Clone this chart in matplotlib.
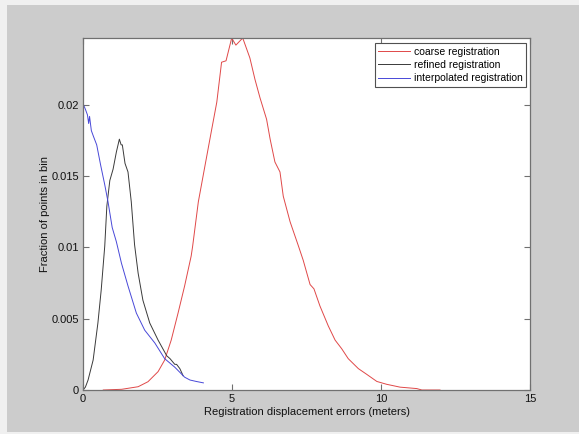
import matplotlib
matplotlib.use("Agg")
import matplotlib.pyplot as plt
from matplotlib.patches import Rectangle

plt.rcParams['font.family'] = ['Liberation Sans', 'DejaVu Sans']

# coarse registration (red)
coarse_x = [0.68, 1.30, 1.85, 2.18, 2.52, 2.74, 2.96, 3.19, 3.41, 3.63, 3.68, 3.87, 4.09,
            4.32, 4.49, 4.65, 4.80, 4.99, 5.13, 5.36, 5.60, 5.77, 5.94, 6.16, 6.28, 6.44,
            6.61, 6.72, 6.95, 7.23, 7.39, 7.62, 7.75, 7.95, 8.23, 8.46, 8.68, 8.90, 9.24,
            9.52, 9.86, 10.19, 10.64, 11.20, 11.37, 11.98]
coarse_y = [0.0000, 0.00005, 0.00023, 0.00058, 0.00129, 0.0021, 0.0035, 0.0054, 0.0073,
            0.0094, 0.0101, 0.0132, 0.0157, 0.0183, 0.0202, 0.0230, 0.0231, 0.0247, 0.0242,
            0.0247, 0.0233, 0.0218, 0.0205, 0.0190, 0.0176, 0.0160, 0.0153, 0.0136, 0.0118,
            0.0101, 0.0091, 0.0074, 0.0071, 0.0059, 0.0045, 0.0035, 0.0029, 0.0022, 0.0015,
            0.0011, 0.0006, 0.0004, 0.0002, 0.0001, 0.0000, 0.0000]

# refined registration (black)
refined_x = [0.00, 0.08, 0.17, 0.34, 0.50, 0.61, 0.73, 0.80, 0.90, 1.01, 1.12, 1.22, 1.28,
             1.32, 1.41, 1.51, 1.62, 1.73, 1.85, 2.01, 2.24, 2.52, 2.81, 2.92, 3.08, 3.14,
             3.25, 3.36]
refined_y = [0.0000, 0.0002, 0.0007, 0.0021, 0.0047, 0.0070, 0.0101, 0.0129, 0.0147, 0.0155,
             0.0167, 0.0176, 0.0172, 0.0172, 0.0159, 0.0153, 0.0132, 0.0102, 0.0082, 0.0063,
             0.0047, 0.0035, 0.0024, 0.0022, 0.0018, 0.0018, 0.0015, 0.0010]

# interpolated registration (blue)
interp_x = [0.00, 0.08, 0.15, 0.19, 0.22, 0.28, 0.35, 0.46, 0.59, 0.73, 0.84, 0.98, 1.12,
            1.29, 1.51, 1.79, 2.07, 2.41, 2.74, 3.08, 3.41, 3.59, 3.80, 4.04]
interp_y = [0.0201, 0.0197, 0.0193, 0.0187, 0.0192, 0.0182, 0.0178, 0.0172, 0.0158, 0.0144,
            0.0132, 0.0114, 0.0104, 0.0089, 0.0073, 0.0054, 0.0042, 0.0033, 0.0022, 0.0016,
            0.0009, 0.0007, 0.0006, 0.0005]

xticks = [0, 5, 10, 15]
yticks = [0, 0.005, 0.01, 0.015, 0.02]
ytick_labels = ['0', '0.005', '0.01', '0.015', '0.02']

fig = plt.figure(figsize=(5.79, 4.34), dpi=100, facecolor='#f0f0f0')
fig.patches.append(Rectangle((7 / 579, 2 / 434), 1, (434 - 7) / 434, transform=fig.transFigure,
                             facecolor='#cccccc', edgecolor='none', zorder=-5))

ax = fig.add_axes([83 / 579, 44 / 434, 447 / 579, 352 / 434])
ax.plot(coarse_x, coarse_y, color='#e04848', lw=0.7, label='coarse registration')
ax.plot(refined_x, refined_y, color='#3a3a3a', lw=0.7, label='refined registration')
ax.plot(interp_x, interp_y, color='#4848d8', lw=0.7, label='interpolated registration')

ax.set_xlim(0, 15)
ax.set_ylim(0, max(coarse_y))
ax.set_xticks(xticks)
ax.set_yticks(yticks)
ax.set_yticklabels(ytick_labels)
ax.tick_params(direction='in', length=4, width=0.8, color='#707070', labelsize=8,
               labelcolor='#111111', top=True, right=True, pad=3)
for sp in ax.spines.values():
    sp.set_color('#707070')
    sp.set_linewidth(0.9)

ax.set_xlabel('Registration displacement errors (meters)', fontsize=8, labelpad=2, color='#111111')
ax.set_ylabel('Fraction of points in bin', fontsize=8, labelpad=1, color='#111111')

leg = ax.legend(loc='upper right', bbox_to_anchor=(0.991, 0.986), fontsize=7.5,
                fancybox=False, framealpha=1, edgecolor='#505050', handlelength=3.1,
                handletextpad=0.3, labelspacing=0.32, borderpad=0.35, borderaxespad=0)
leg.get_frame().set_linewidth(0.8)

fig.savefig('out.png', dpi=100, facecolor=fig.get_facecolor())
